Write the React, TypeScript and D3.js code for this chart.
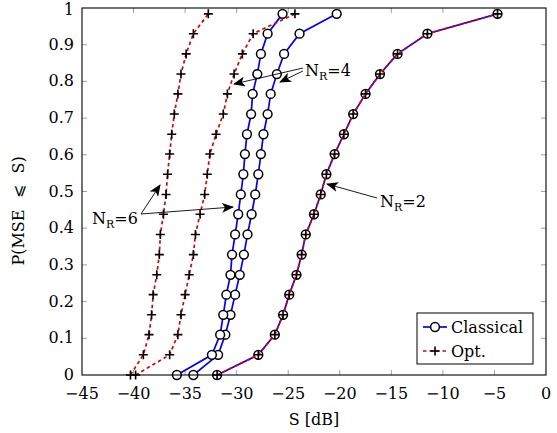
import React, { useRef, useEffect } from 'react';
import { select, scaleLinear, line } from 'd3';

// cumulative probability levels shared by every curve
const probs = [0, 0.055, 0.11, 0.164, 0.219, 0.273, 0.328, 0.383, 0.438, 0.492, 0.547, 0.602, 0.656, 0.711, 0.766, 0.82, 0.875, 0.93, 0.984];

// S [dB] for each curve
const classicalNR2 = [-31.9, -27.9, -26.3, -25.5, -24.9, -24.2, -23.7, -23.3, -22.5, -21.85, -21.3, -20.5, -19.6, -18.7, -17.5, -16.1, -14.4, -11.5, -4.7];
const classicalNR4 = [-34.2, -31.8, -31.1, -30.6, -30.15, -29.7, -29.3, -28.95, -28.55, -28.2, -27.9, -27.65, -27.4, -27.0, -26.7, -26.1, -25.4, -23.9, -20.3];
const classicalNR6 = [-35.8, -32.4, -31.6, -31.3, -31.0, -30.6, -30.45, -30.15, -29.85, -29.6, -29.35, -29.2, -29.0, -28.6, -28.45, -28.0, -27.65, -27.0, -25.55];
const optNR2 = [-31.9, -27.9, -26.3, -25.5, -24.9, -24.2, -23.7, -23.3, -22.5, -21.85, -21.3, -20.5, -19.6, -18.7, -17.5, -16.1, -14.4, -11.5, -4.7];
const optNR4 = [-39.8, -36.5, -35.7, -35.4, -35.0, -34.6, -34.2, -34.0, -33.55, -33.1, -32.85, -32.6, -32.0, -31.3, -30.9, -30.25, -29.45, -28.4, -24.35];
const optNR6 = [-40.3, -39.05, -38.5, -38.25, -38.1, -37.75, -37.5, -37.4, -37.1, -36.85, -36.7, -36.5, -36.3, -36.05, -35.7, -35.4, -34.9, -34.2, -32.75];

const xTicks = [-45, -40, -35, -30, -25, -20, -15, -10, -5, 0];
const yTicks = [0, 0.1, 0.2, 0.3, 0.4, 0.5, 0.6, 0.7, 0.8, 0.9, 1];

const FONT = "'DejaVu Serif', serif";

function App() {
  const svgRef = useRef(null);

  useEffect(() => {
    const svg = select(svgRef.current);
    svg.selectAll('*').remove();

    const left = 82, right = 546, top = 8, bottom = 375;
    const x = scaleLinear().domain([-45, 0]).range([left, right]);
    const y = scaleLinear().domain([0, 1]).range([bottom, top]);

    const defs = svg.append('defs');
    defs.append('marker')
      .attr('id', 'arr')
      .attr('viewBox', '0 0 12 10')
      .attr('refX', 11)
      .attr('refY', 5)
      .attr('markerWidth', 12)
      .attr('markerHeight', 10)
      .attr('markerUnits', 'userSpaceOnUse')
      .attr('orient', 'auto')
      .append('path')
      .attr('d', 'M0,0 L12,5 L0,10 L3,5 Z')
      .attr('fill', 'black');

    // ticks (inward, all four sides)
    const tickG = svg.append('g').attr('stroke', '#888').attr('stroke-width', 0.8);
    xTicks.slice(1, -1).forEach((t) => {
      tickG.append('line').attr('x1', x(t)).attr('x2', x(t)).attr('y1', bottom).attr('y2', bottom - 5);
      tickG.append('line').attr('x1', x(t)).attr('x2', x(t)).attr('y1', top).attr('y2', top + 5);
    });
    yTicks.slice(1, -1).forEach((t) => {
      tickG.append('line').attr('x1', left).attr('x2', left + 5).attr('y1', y(t)).attr('y2', y(t));
      tickG.append('line').attr('x1', right).attr('x2', right - 5).attr('y1', y(t)).attr('y2', y(t));
    });

    const txt = (sel) => sel.style('font-family', FONT).style('font-size', '16px');

    // tick labels
    xTicks.forEach((t) => {
      svg.append('text')
        .attr('x', x(t))
        .attr('y', bottom + 24)
        .attr('text-anchor', 'middle')
        .call(txt)
        .text(t < 0 ? '\u2212' + Math.abs(t) : String(t));
    });
    yTicks.forEach((t) => {
      svg.append('text')
        .attr('x', left - 8)
        .attr('y', Math.max(y(t) + 5, 15))
        .attr('text-anchor', 'end')
        .call(txt)
        .text(t === 0 || t === 1 ? String(t) : t.toFixed(1));
    });

    // axis labels
    svg.append('text')
      .attr('x', (left + right) / 2)
      .attr('y', 425)
      .attr('text-anchor', 'middle')
      .call(txt)
      .text('S [dB]');
    const yl = svg.append('g').attr('transform', `translate(24,${(top + bottom) / 2}) rotate(-90)`);
    yl.append('text').attr('x', -18).attr('text-anchor', 'end').call(txt).text('P(MSE');
    yl.append('text').attr('x', 0).attr('text-anchor', 'middle').call(txt).text('\u2A7D');
    yl.append('text').attr('x', 18).attr('text-anchor', 'start').call(txt).text('S)');

    const lineGen = line().x((d) => x(d[0])).y((d) => y(d[1]));

    const plot = svg.append('g');
    const drawClassical = (vals) => {
      const pts = vals.map((v, i) => [v, probs[i]]);
      plot.append('path').attr('d', lineGen(pts)).attr('fill', 'none')
        .attr('stroke', '#0000ff').attr('stroke-width', 1.7);
      return pts;
    };
    const drawOpt = (vals) => {
      const pts = vals.map((v, i) => [v, probs[i]]);
      plot.append('path').attr('d', lineGen(pts)).attr('fill', 'none')
        .attr('stroke', '#e00000').attr('stroke-width', 1.7).attr('stroke-dasharray', '3.5,3');
      return pts;
    };
    const circles = (pts) => {
      plot.selectAll(null).data(pts).join('circle')
        .attr('cx', (d) => x(d[0])).attr('cy', (d) => y(d[1])).attr('r', 4.4)
        .attr('fill', 'white').attr('stroke', 'black').attr('stroke-width', 1.5);
    };
    const pluses = (pts) => {
      plot.selectAll(null).data(pts).join('path')
        .attr('d', (d) => `M${x(d[0]) - 4.5},${y(d[1])}h9M${x(d[0])},${y(d[1]) - 4.5}v9`)
        .attr('stroke', 'black').attr('stroke-width', 1.6);
    };

    const c2 = drawClassical(classicalNR2);
    const c4 = drawClassical(classicalNR4);
    const c6 = drawClassical(classicalNR6);
    circles(c2); circles(c4); circles(c6);
    const o2 = drawOpt(optNR2);
    const o4 = drawOpt(optNR4);
    const o6 = drawOpt(optNR6);
    pluses(o2); pluses(o4); pluses(o6);

    // frame
    svg.append('rect').attr('x', left).attr('y', top).attr('width', right - left).attr('height', bottom - top)
      .attr('fill', 'none').attr('stroke', 'black').attr('stroke-width', 1.1);

    // annotations
    const arrow = (x1, y1, x2, y2) => {
      svg.append('line').attr('x1', x1).attr('y1', y1).attr('x2', x2).attr('y2', y2)
        .attr('stroke', 'black').attr('stroke-width', 0.9).attr('marker-end', 'url(#arr)');
    };
    const label = (lx, ly, num) => {
      const t = svg.append('text').attr('x', lx).attr('y', ly).call(txt);
      t.append('tspan').text('N');
      t.append('tspan').style('font-size', '11px').attr('dy', 4).text('R');
      t.append('tspan').attr('dy', -4).text('=' + num);
    };
    arrow(377, 198, 327, 184);
    label(380, 207, 2);
    arrow(303, 68, 234, 84);
    arrow(303, 71, 280, 82);
    label(305, 76, 4);
    arrow(141, 214, 160, 185);
    arrow(141, 214, 233, 207);
    label(92, 224, 6);

    // legend
    const lg = svg.append('g');
    lg.append('rect').attr('x', 417).attr('y', 313).attr('width', 116).attr('height', 51)
      .attr('fill', 'white').attr('stroke', 'black').attr('stroke-width', 1);
    lg.append('line').attr('x1', 423).attr('x2', 447).attr('y1', 327).attr('y2', 327)
      .attr('stroke', '#0000ff').attr('stroke-width', 1.7);
    lg.append('circle').attr('cx', 435).attr('cy', 327).attr('r', 4.4)
      .attr('fill', 'white').attr('stroke', 'black').attr('stroke-width', 1.5);
    lg.append('line').attr('x1', 423).attr('x2', 447).attr('y1', 351).attr('y2', 351)
      .attr('stroke', '#e00000').attr('stroke-width', 1.7).attr('stroke-dasharray', '3.5,3');
    lg.append('path').attr('d', 'M430.5,351h9M435,346.5v9').attr('stroke', 'black').attr('stroke-width', 1.6);
    lg.append('text').attr('x', 451).attr('y', 333).call(txt).text('Classical');
    lg.append('text').attr('x', 451).attr('y', 357).call(txt).text('Opt.');
  }, []);

  return (
    <svg ref={svgRef} width={557} height={433}
      style={{ position: 'absolute', left: 0, top: 0, background: 'white' }} />
  );
}

export default App;
